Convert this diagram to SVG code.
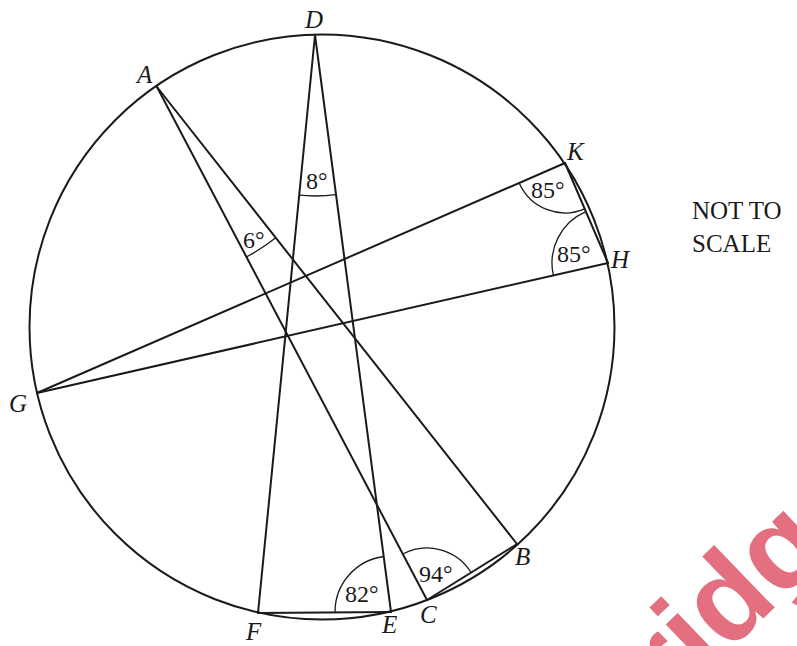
<svg xmlns="http://www.w3.org/2000/svg" width="797" height="646" viewBox="0 0 797 646">
<style>
.ln{stroke:#1a1a1a;stroke-width:2;fill:none;stroke-linecap:round}
.arc{stroke:#1a1a1a;stroke-width:1.3;fill:none}
.pt{font-family:"Liberation Serif",serif;font-style:italic;font-size:25px;fill:#1a1a1a}
.ang{font-family:"Liberation Serif",serif;font-size:24px;fill:#1a1a1a}
.note{font-family:"Liberation Serif",serif;font-size:25px;fill:#1a1a1a}
</style>
<rect width="797" height="646" fill="#fff"/>
<text transform="translate(617.5,759.3) rotate(-44)" font-family="Liberation Sans,Arial,sans-serif" font-weight="bold" font-size="120" fill="#e46f80">bridge</text>
<circle cx="322" cy="327" r="292.5" class="ln"/>
<g id="connectors">
<line class="ln" x1="157" y1="87" x2="427" y2="600"/>
<line class="ln" x1="157" y1="87" x2="517" y2="544"/>
<line class="ln" x1="315" y1="35" x2="258" y2="613"/>
<line class="ln" x1="315" y1="35" x2="391" y2="612"/>
<line class="ln" x1="37" y1="393" x2="565" y2="163"/>
<line class="ln" x1="37" y1="393" x2="608" y2="263"/>
<line class="ln" x1="565" y1="163" x2="608" y2="263"/>
<line class="ln" x1="258" y1="613" x2="391" y2="612"/>
<line class="ln" x1="427" y1="600" x2="517" y2="544"/>
</g>
<g id="angles">
<path class="arc" d="M299.2 195.2 A161 161 0 0 0 336.0 194.6"/>
<path class="arc" d="M246.4 256.9 A192 192 0 0 0 275.8 237.8"/>
<path class="arc" d="M519.2 183.0 A50 50 0 0 0 584.7 208.9"/>
<path class="arc" d="M553.4 275.4 A56 56 0 0 1 585.9 211.6"/>
<path class="arc" d="M335 612.4 A56 56 0 0 1 383.7 556.5"/>
<path class="arc" d="M402.8 554.0 A52 52 0 0 1 471.1 572.5"/>
<text class="ang" x="306" y="189">8°</text>
<text class="ang" x="243" y="248">6°</text>
<text class="ang" x="531" y="198">85°</text>
<text class="ang" x="557" y="262">85°</text>
<text class="ang" x="345" y="602">82°</text>
<text class="ang" x="419" y="582">94°</text>
</g>
<g id="A"><text class="pt" x="137" y="83">A</text></g>
<g id="D"><text class="pt" x="305" y="28">D</text></g>
<g id="K"><text class="pt" x="567" y="160">K</text></g>
<g id="H"><text class="pt" x="611" y="268">H</text></g>
<g id="G"><text class="pt" x="9" y="412">G</text></g>
<g id="B"><text class="pt" x="515" y="565">B</text></g>
<g id="C"><text class="pt" x="420" y="623">C</text></g>
<g id="E"><text class="pt" x="382" y="633">E</text></g>
<g id="F"><text class="pt" x="246" y="640">F</text></g>
<g id="note">
<text class="note" x="692" y="219">NOT TO</text>
<text class="note" x="692" y="252">SCALE</text>
</g>
</svg>
